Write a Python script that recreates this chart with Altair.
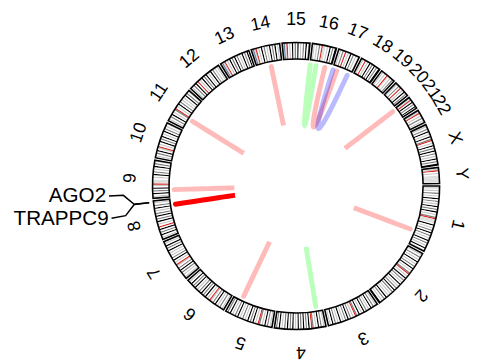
import math
import altair as alt
import pandas as pd

# ---------------- data ----------------
chrom_names = ["1", "2", "3", "4", "5", "6", "7", "8", "9", "10", "11", "12",
               "13", "14", "15", "16", "17", "18", "19", "20", "21", "22", "X", "Y"]
chrom_lengths_mb = [249.25, 243.20, 198.02, 191.15, 180.92, 171.12, 159.14, 146.36,
                    141.21, 135.53, 135.01, 133.85, 115.17, 107.35, 102.53, 90.35,
                    81.20, 78.08, 59.13, 63.03, 48.13, 51.30, 155.27, 59.37]
# simplified cytoband stains, equal-width bands per chromosome
# 0 gneg, 1 gpos25, 2 gpos50, 3 gpos75, 4 gpos100, v gvar, a acen, s stalk
band_strings = [
    "010203010403020403040203" + "a" + "vvv" + "0402030403020403010402",
    "010302040103040203" + "a" + "020403010402030403020104030204",
    "010304020304010403" + "a" + "020304030204010304020",
    "0203040103" + "a" + "040304030402040304030204030",
    "0103040203" + "a" + "0204030402030104030204030",
    "010302040301" + "a" + "020403040302040304020",
    "010203040302" + "a" + "0204030201040304020",
    "020403040" + "a" + "0204030403020403010",
    "0204030402" + "a" + "vvv" + "02040301040302",
    "01030402" + "a" + "020403040204030201",
    "0103040203" + "a" + "0204030102040302",
    "0203040" + "a" + "0204030402040301020",
    "vsv" + "a" + "0204030403020403040",
    "vsv" + "a" + "02040302040304020",
    "vsv" + "a" + "0204030402030403",
    "0102030" + "a" + "vv" + "02040304",
    "02030" + "a" + "0204030102",
    "020" + "a" + "020403040304",
    "01020" + "a" + "v02030",
    "01030" + "a" + "0204030",
    "sv" + "a" + "0403040",
    "sv" + "a" + "0203020",
    "010304020403" + "a" + "020403040302040304",
    "02" + "a" + "020" + "vvvvvv",
]
stain_colors = {"0": "#FFFFFF", "1": "#C8C8C8", "2": "#C8C8C8", "3": "#828282",
                "4": "#000000", "v": "#DCDCDC", "a": "#D92F27", "s": "#647FA4"}

link_chrom1 = ["14", "11", "9", "5", "1", "21", "16", "4", "16", "17", "8"]
link_pos1 = [60, 45, 30, 145, 190, 5, 65, 25.5, 1, 2.5, 122]
link_chrom2 = ["14", "11", "9", "5", "1", "21", "17", "4", "16", "17", "8"]
link_pos2 = [60, 45, 30, 145, 190, 5, 19, 25.5, 26, 68, 122]
link_kind = ["pink", "pink", "pink", "pink", "pink", "pink", "pink",
             "green", "green", "blue", "red"]
kind_color = {"pink": "#FF0000", "green": "#00FF00", "blue": "#0000FF", "red": "#FF0000"}
kind_opacity = {"pink": 0.27, "green": 0.27, "blue": 0.27, "red": 1.0}

gene_names = ["TRAPPC9", "AGO2"]
gene_chrom = ["8", "8"]
gene_pos = [141.1, 141.6]

# ---------------- layout ----------------
W, H = 474, 356
R_PX = 146.0
CX, CY = 293.0, 178.0
GAP_DEG = 1.0
START_DEG = 90.0
R_OUT, R_IN = 1.0, 0.885
R_LINK, R_TIP = 0.85, 0.43
R_CHR_LABEL = 1.155

total = sum(chrom_lengths_mb)
deg_per_mb = (360.0 - GAP_DEG * len(chrom_names)) / total
cum = []
acc = 0.0
for L in chrom_lengths_mb:
    cum.append(acc)
    acc += L
idx = {c: i for i, c in enumerate(chrom_names)}


def bearing(ch, pos):
    i = idx[ch]
    return START_DEG + (cum[i] + pos) * deg_per_mb + i * GAP_DEG


def polar(r, b):
    a = math.radians(b)
    return r * math.sin(a), r * math.cos(a)


# bands
band_rows = []
for i, ch in enumerate(chrom_names):
    s = band_strings[i]
    w = chrom_lengths_mb[i] / len(s)
    for j, code in enumerate(s):
        band_rows.append({"t1": math.radians(bearing(ch, j * w)),
                          "t2": math.radians(bearing(ch, (j + 1) * w)),
                          "ro": R_OUT, "ri": R_IN, "col": stain_colors[code]})
bands = pd.DataFrame(band_rows)

border = pd.DataFrame([{"t1": math.radians(bearing(ch, 0)),
                        "t2": math.radians(bearing(ch, chrom_lengths_mb[i])),
                        "ro": R_OUT, "ri": R_IN} for i, ch in enumerate(chrom_names)])

# chromosome labels
lab_rows = []
for i, ch in enumerate(chrom_names):
    b = bearing(ch, chrom_lengths_mb[i] / 2)
    x, y = polar(R_CHR_LABEL, b)
    lab_rows.append({"x": x, "y": y, "ang": b % 360, "txt": ch})
chr_labels = pd.DataFrame(lab_rows)

# links as quadratic curves
link_rows = []
for k in range(len(link_kind)):
    b1 = bearing(link_chrom1[k], link_pos1[k])
    b2 = bearing(link_chrom2[k], link_pos2[k])
    p0 = polar(R_LINK, b1)
    p2 = polar(R_LINK, b2)
    tip = polar(R_TIP, (b1 + b2) / 2)
    p1 = (2 * tip[0] - (p0[0] + p2[0]) / 2, 2 * tip[1] - (p0[1] + p2[1]) / 2)
    n = 30
    for s in range(n + 1):
        t = s / n
        x = (1 - t) ** 2 * p0[0] + 2 * t * (1 - t) * p1[0] + t ** 2 * p2[0]
        y = (1 - t) ** 2 * p0[1] + 2 * t * (1 - t) * p1[1] + t ** 2 * p2[1]
        link_rows.append({"id": k, "o": s, "x": x, "y": y,
                          "col": kind_color[link_kind[k]],
                          "op": kind_opacity[link_kind[k]]})
links = pd.DataFrame(link_rows)

# gene label connectors
gb = [bearing(gene_chrom[g], gene_pos[g]) for g in range(len(gene_names))]
gmid = sum(gb) / len(gb)
spacing = 6.8
con_rows, gtxt_rows = [], []
for g, name in enumerate(gene_names):
    lb = gmid + (g - (len(gene_names) - 1) / 2) * spacing
    pts = [polar(1.03, gb[g]), polar(1.135, gb[g]), polar(1.205, lb), polar(1.305, lb)]
    for o, (x, y) in enumerate(pts):
        con_rows.append({"g": name, "o": o, "x": x, "y": y})
    tx, ty = polar(1.325, lb)
    gtxt_rows.append({"x": tx, "y": ty, "txt": name})
connectors = pd.DataFrame(con_rows)
gene_text = pd.DataFrame(gtxt_rows)

# ---------------- chart ----------------
xs = alt.Scale(domain=[-CX / R_PX, (W - CX) / R_PX], nice=False, zero=False)
ys = alt.Scale(domain=[-(H - CY) / R_PX, CY / R_PX], nice=False, zero=False)
rs = alt.Scale(type="linear", domain=[0, 1], range=[0, R_PX], zero=True, nice=False)
X = lambda: alt.X("x:Q", scale=xs, axis=None)
Y = lambda: alt.Y("y:Q", scale=ys, axis=None)

band_layer = alt.Chart(bands).mark_arc().encode(
    theta=alt.Theta("t1:Q", scale=None), theta2="t2:Q",
    radius=alt.Radius("ro:Q", scale=rs), radius2="ri:Q",
    color=alt.Color("col:N", scale=None),
    x=alt.value(CX), y=alt.value(CY))

border_layer = alt.Chart(border).mark_arc(
    filled=False, stroke="black", strokeWidth=1.6).encode(
    theta=alt.Theta("t1:Q", scale=None), theta2="t2:Q",
    radius=alt.Radius("ro:Q", scale=rs), radius2="ri:Q",
    x=alt.value(CX), y=alt.value(CY))

link_layer = alt.Chart(links).mark_line(strokeWidth=5, strokeCap="round").encode(
    x=X(), y=Y(), detail="id:N", order="o:Q",
    color=alt.Color("col:N", scale=None),
    opacity=alt.Opacity("op:Q", scale=None))

label_layer = alt.Chart(chr_labels).mark_text(
    font="Liberation Sans", fontSize=18, align="center", baseline="middle",
    color="black").encode(
    x=X(), y=Y(), text="txt:N", angle=alt.Angle("ang:Q", scale=None))

con_layer = alt.Chart(connectors).mark_line(color="black", strokeWidth=1.5).encode(
    x=X(), y=Y(), detail="g:N", order="o:Q")

gene_layer = alt.Chart(gene_text).mark_text(
    font="Liberation Sans", fontSize=21, align="right", baseline="middle",
    color="black").encode(x=X(), y=Y(), text="txt:N")

chart = alt.layer(band_layer, border_layer, link_layer, label_layer,
                  con_layer, gene_layer).properties(
    width=W, height=H, padding=0,
    autosize=alt.AutoSizeParams(type="none")
).configure_view(strokeWidth=0)

chart.save("out.html", embed_options={"renderer": "svg", "actions": False})
